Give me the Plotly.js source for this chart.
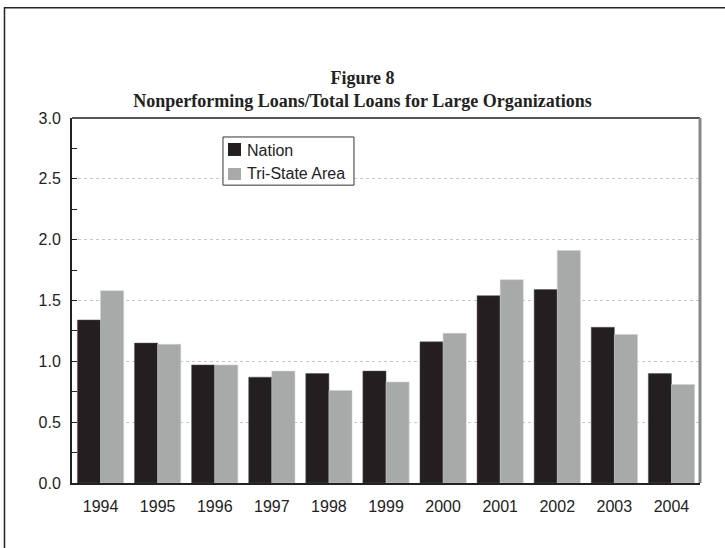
<!DOCTYPE html>
<html><head><meta charset="utf-8">
<script src="https://cdn.plot.ly/plotly-3.0.1.min.js"></script>
<style>html,body{margin:0;padding:0;background:#fff}#chart{width:725px;height:548px}</style>
</head><body><div id="chart"></div>
<script>
const years = ['1994','1995','1996','1997','1998','1999','2000','2001','2002','2003','2004'];
const seriesNames = ['Nation','Tri-State Area'];
const nation = [1.34,1.15,0.97,0.87,0.90,0.92,1.16,1.54,1.59,1.28,0.90];
const triState = [1.58,1.14,0.97,0.92,0.76,0.83,1.23,1.67,1.91,1.22,0.81];
const yTicks = [0,0.5,1,1.5,2,2.5,3];
const yTickText = ['0.0','0.5','1.0','1.5','2.0','2.5','3.0'];
const colors = ['#231f20','#a8aaa9'];

const traces = [
  {type:'bar', name:seriesNames[0], x:years, y:nation, marker:{color:colors[0], line:{color:'#555', width:0.5}}},
  {type:'bar', name:seriesNames[1], x:years, y:triState, marker:{color:colors[1], line:{color:'#cfcfcf', width:0.5}}}
];
// legend box geometry (paper coords)
const lg = {x0:0.2404, x1:0.449, y0:0.816, y1:0.948};
const sq = [{y0:0.896, y1:0.9315},{y0:0.830, y1:0.863}];
const txtY = [0.912, 0.8466];
const layout = {
  width:725, height:548,
  margin:{l:72, r:25, t:118, b:65},
  paper_bgcolor:'#fff', plot_bgcolor:'#fff',
  barmode:'group', bargap:0.19, bargroupgap:0,
  showlegend:false,
  title:{text:'Figure 8<br>Nonperforming Loans/Total Loans for Large Organizations',
    font:{family:'Liberation Serif, serif', size:18, color:'#222', weight:'bold'}, x:0.5, xanchor:'center', y:0.847, yanchor:'middle'},
  font:{family:'Liberation Sans, Arial, sans-serif', size:16, color:'#222'},
  xaxis:{type:'category', showline:true, linecolor:'#222', linewidth:2, ticks:'', showgrid:false,
    tickfont:{size:16}, ticklabelstandoff:8},
  yaxis:{range:[0,3], tickvals:yTicks, ticktext:yTickText, showline:true, linecolor:'#222', linewidth:2,
    ticks:'inside', ticklen:5, tickcolor:'#222',
    minor:{dtick:0.25, ticks:'inside', ticklen:5, tickcolor:'#222', showgrid:false},
    showgrid:true, gridcolor:'#c8c8c8', griddash:'dot', gridwidth:1, zeroline:false,
    tickfont:{size:16}, ticklabelstandoff:6},
  annotations:[
    {xref:'paper', yref:'paper', x:0.2755, y:txtY[0], xanchor:'left', yanchor:'middle', text:seriesNames[0], showarrow:false, font:{size:16, color:'#222'}},
    {xref:'paper', yref:'paper', x:0.2755, y:txtY[1], xanchor:'left', yanchor:'middle', text:seriesNames[1], showarrow:false, font:{size:16, color:'#222'}}
  ],
  shapes:[
    {type:'line', xref:'paper', yref:'paper', x0:0, x1:1, y0:1, y1:1, line:{color:'#555', width:2}},
    {type:'line', xref:'paper', yref:'paper', x0:1, x1:1, y0:0, y1:1, line:{color:'#888', width:3}},
    {type:'rect', xref:'paper', yref:'paper', x0:-0.1075, x1:1.2, y0:-0.4, y1:1.302, line:{color:'#222', width:1.5}},
    {type:'rect', xref:'paper', yref:'paper', x0:lg.x0, x1:lg.x1, y0:lg.y0, y1:lg.y1, fillcolor:'#fff', line:{color:'#333', width:1}, layer:'above'},
    {type:'rect', xref:'paper', yref:'paper', x0:0.2484, x1:0.2691, y0:sq[0].y0, y1:sq[0].y1, fillcolor:colors[0], line:{width:0}, layer:'above'},
    {type:'rect', xref:'paper', yref:'paper', x0:0.2484, x1:0.2691, y0:sq[1].y0, y1:sq[1].y1, fillcolor:colors[1], line:{width:0}, layer:'above'}
  ]
};
Plotly.newPlot('chart', traces, layout, {displayModeBar:false, staticPlot:true});
</script></body></html>
